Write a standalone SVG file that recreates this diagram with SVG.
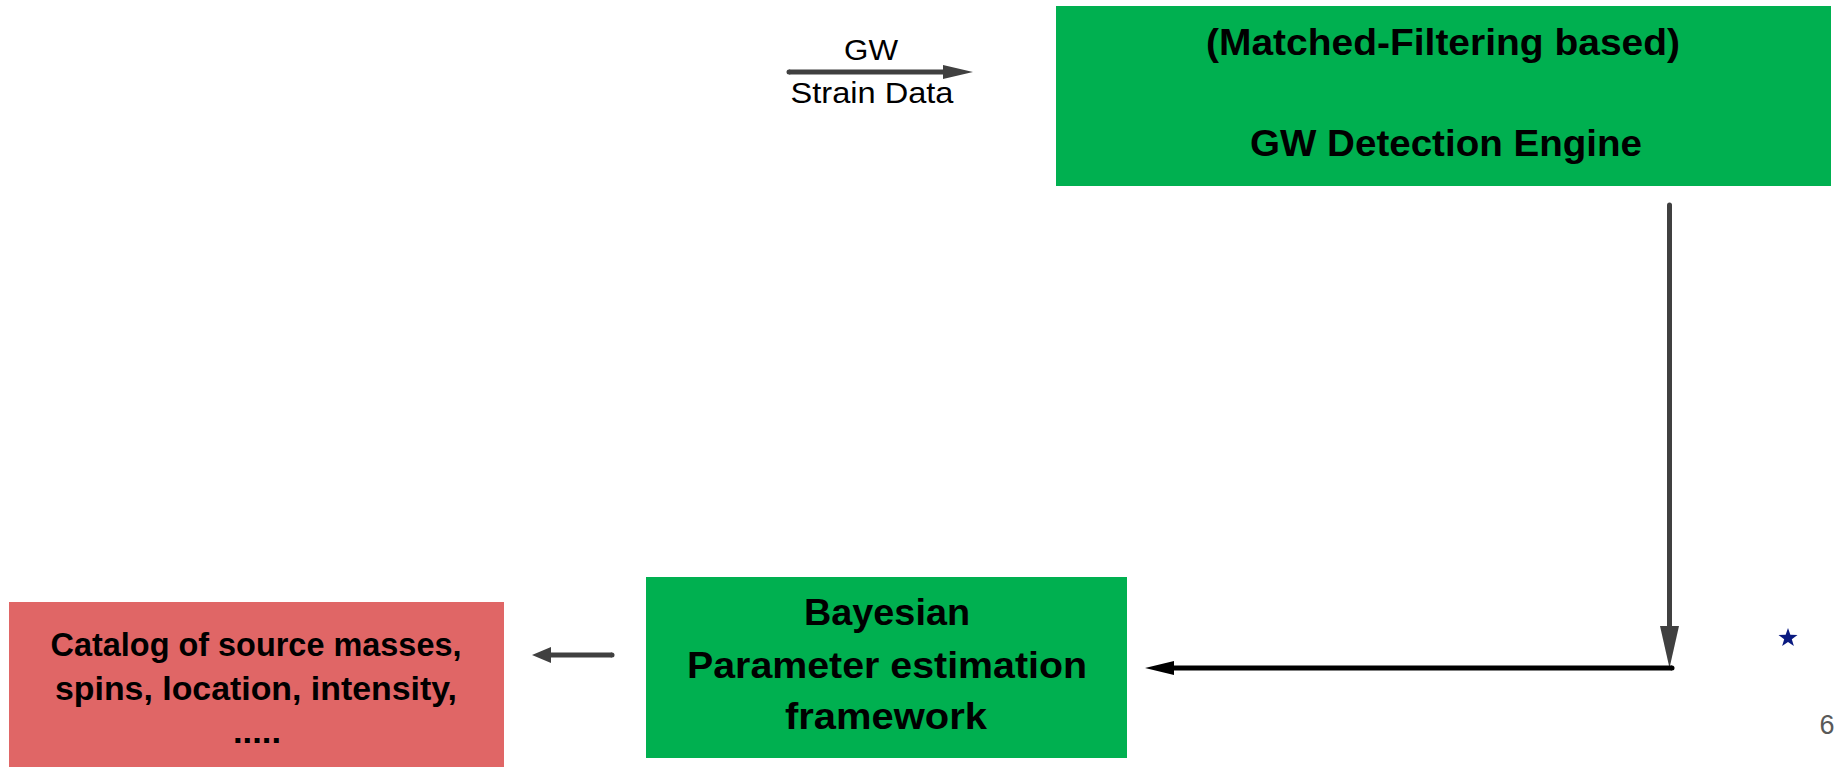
<svg xmlns="http://www.w3.org/2000/svg" width="1837" height="767" viewBox="0 0 1837 767">
  <style>
    .green { fill: #00B050; }
    .red { fill: #E06666; }
    .bt { font-family: "Liberation Sans", Arial, sans-serif; font-weight: bold; fill: #000000; text-anchor: middle; }
    .rt { font-family: "Liberation Sans", Arial, sans-serif; fill: #000000; text-anchor: middle; }
    .gray { stroke: #404040; stroke-width: 5; fill: none; }
    .blk { stroke: #000000; stroke-width: 5; fill: none; }
  </style>
  <defs>
    <marker id="ahTop" markerUnits="userSpaceOnUse" markerWidth="30" markerHeight="14" viewBox="0 0 30 14" refX="0" refY="7" orient="auto">
      <path d="M0,0 L30,7 L0,14 z" fill="#404040"/>
    </marker>
    <marker id="ahDown" markerUnits="userSpaceOnUse" markerWidth="42" markerHeight="19" viewBox="0 0 42 19" refX="0" refY="9.5" orient="auto">
      <path d="M0,0 L42,9.5 L0,19 z" fill="#404040"/>
    </marker>
    <marker id="ahRed" markerUnits="userSpaceOnUse" markerWidth="19" markerHeight="16" viewBox="0 0 19 16" refX="0" refY="8" orient="auto">
      <path d="M0,0 L19,8 L0,16 z" fill="#404040"/>
    </marker>
    <marker id="ahBlk" markerUnits="userSpaceOnUse" markerWidth="29" markerHeight="14" viewBox="0 0 29 14" refX="0" refY="7" orient="auto">
      <path d="M0,0 L29,7 L0,14 z" fill="#000000"/>
    </marker>
  </defs>
  <rect width="1837" height="767" fill="#FFFFFF"/>

  <g id="detection-engine">
    <rect class="green" x="1056" y="6" width="775" height="180"/>
    <text class="bt" x="1443" y="55" font-size="37" textLength="474" lengthAdjust="spacingAndGlyphs">(Matched-Filtering based)</text>
    <text class="bt" x="1446" y="156" font-size="37" textLength="392" lengthAdjust="spacingAndGlyphs">GW Detection Engine</text>
  </g>

  <g id="parameter-estimation">
    <rect class="green" x="646" y="577" width="481" height="181"/>
    <text class="bt" x="887" y="625" font-size="36" textLength="166" lengthAdjust="spacingAndGlyphs">Bayesian</text>
    <text class="bt" x="887" y="678" font-size="36" textLength="400" lengthAdjust="spacingAndGlyphs">Parameter estimation</text>
    <text class="bt" x="886" y="729" font-size="36" textLength="202" lengthAdjust="spacingAndGlyphs">framework</text>
  </g>

  <g id="catalog">
    <rect class="red" x="9" y="602" width="495" height="165"/>
    <text class="bt" x="256" y="656" font-size="33.5" textLength="411" lengthAdjust="spacingAndGlyphs">Catalog of source masses,</text>
    <text class="bt" x="256" y="700" font-size="33.5" textLength="402" lengthAdjust="spacingAndGlyphs">spins, location, intensity,</text>
    <text class="bt" x="257" y="743" font-size="33.5" textLength="48" lengthAdjust="spacingAndGlyphs">.....</text>
  </g>

  <g id="strain-input">
    <text class="rt" x="871" y="60" font-size="29" textLength="54" lengthAdjust="spacingAndGlyphs">GW</text>
    <text class="rt" x="872" y="103" font-size="29" textLength="163" lengthAdjust="spacingAndGlyphs">Strain Data</text>
  </g>

  <g id="connectors">
    <path class="gray" d="M789,72 L943,72" marker-end="url(#ahTop)"/>
    <circle cx="789" cy="72" r="2.5" fill="#404040"/>
    <path class="gray" d="M1669.5,205 L1669.5,626" marker-end="url(#ahDown)"/>
    <circle cx="1669.5" cy="205" r="2.5" fill="#404040"/>
    <path class="blk" d="M1672,668 L1174,668" marker-end="url(#ahBlk)"/>
    <circle cx="1672" cy="668" r="2.5" fill="#000000"/>
    <path class="gray" d="M612,655 L551,655" marker-end="url(#ahRed)"/>
    <circle cx="612" cy="655" r="2.5" fill="#404040"/>
  </g>

  <g id="slide-decor">
    <polygon fill="#0A1A80" points="1788,628 1790.35,634.76 1797.51,634.91 1791.8,639.24 1793.88,646.09 1788,642 1782.12,646.09 1784.2,639.24 1778.49,634.91 1785.65,634.76"/>
    <text x="1827" y="734" font-family="Liberation Sans, Arial, sans-serif" font-size="27" fill="#595959" text-anchor="middle">6</text>
  </g>
</svg>
